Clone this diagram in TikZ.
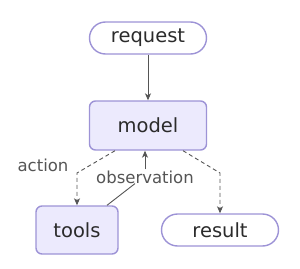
\documentclass[tikz,border=0pt]{standalone}
\usepackage{fontspec}
\setmainfont{DejaVu Sans}
\usepackage{tikz}
\usetikzlibrary{arrows.meta, positioning, calc}
\definecolor{agEdge}{HTML}{9D93D6}
\definecolor{agFill}{HTML}{ECEAFD}
\definecolor{agText}{HTML}{2B2B2B}
\definecolor{agLine}{HTML}{555555}
\tikzset{
  agnode/.style={
    draw=agEdge, line width=1.4pt, inner sep=0pt, text=agText,
    font=\fontsize{19.5}{22}\selectfont
  },
  stepbox/.style={agnode, fill=agFill, rounded corners=6pt},
  termbox/.style={agnode, fill=white, rounded corners=16pt,
    minimum width=117pt, minimum height=32pt},
  edgelabel/.style={text=agLine, inner sep=1pt, font=\fontsize{16.5}{19}\selectfont},
  flow/.style={-{Stealth[length=7pt, width=6pt, inset=2pt]}, line width=0.9pt, agLine},
  choice/.style={flow, dashed, dash pattern=on 4pt off 3pt}
}
\begin{document}
\begin{tikzpicture}[x=1pt, y=-1pt]
  \useasboundingbox (0,0) rectangle (300,268);
  % nodes
  \node[termbox] (request) at (148,38) {request};
  \node[stepbox, minimum width=117pt, minimum height=49pt] (model) at (148,125.5) {model};
  \node[stepbox, minimum width=82pt, minimum height=48pt] (tools) at (77,230) {tools};
  \node[termbox] (result) at (220,230) {result};
  \node[edgelabel] (obs) at (145,177) {observation};
  \node[edgelabel] (act) at (43,165) {action};
  % edges
  \draw[flow] (request) -- (model);
  \draw[choice] ([xshift=-33pt]model.south) -- (tools.north |- 0,173) -- (tools.north);
  \draw[choice] ([xshift=35pt]model.south) -- (result.north |- 0,173) -- (result.north);
  \draw[agLine, line width=0.9pt] ([xshift=30pt]tools.north) -- ($(obs.south)+(-10,-1)$);
  \draw[flow] (obs.north) -- (obs.north |- model.south);
\end{tikzpicture}
\end{document}
